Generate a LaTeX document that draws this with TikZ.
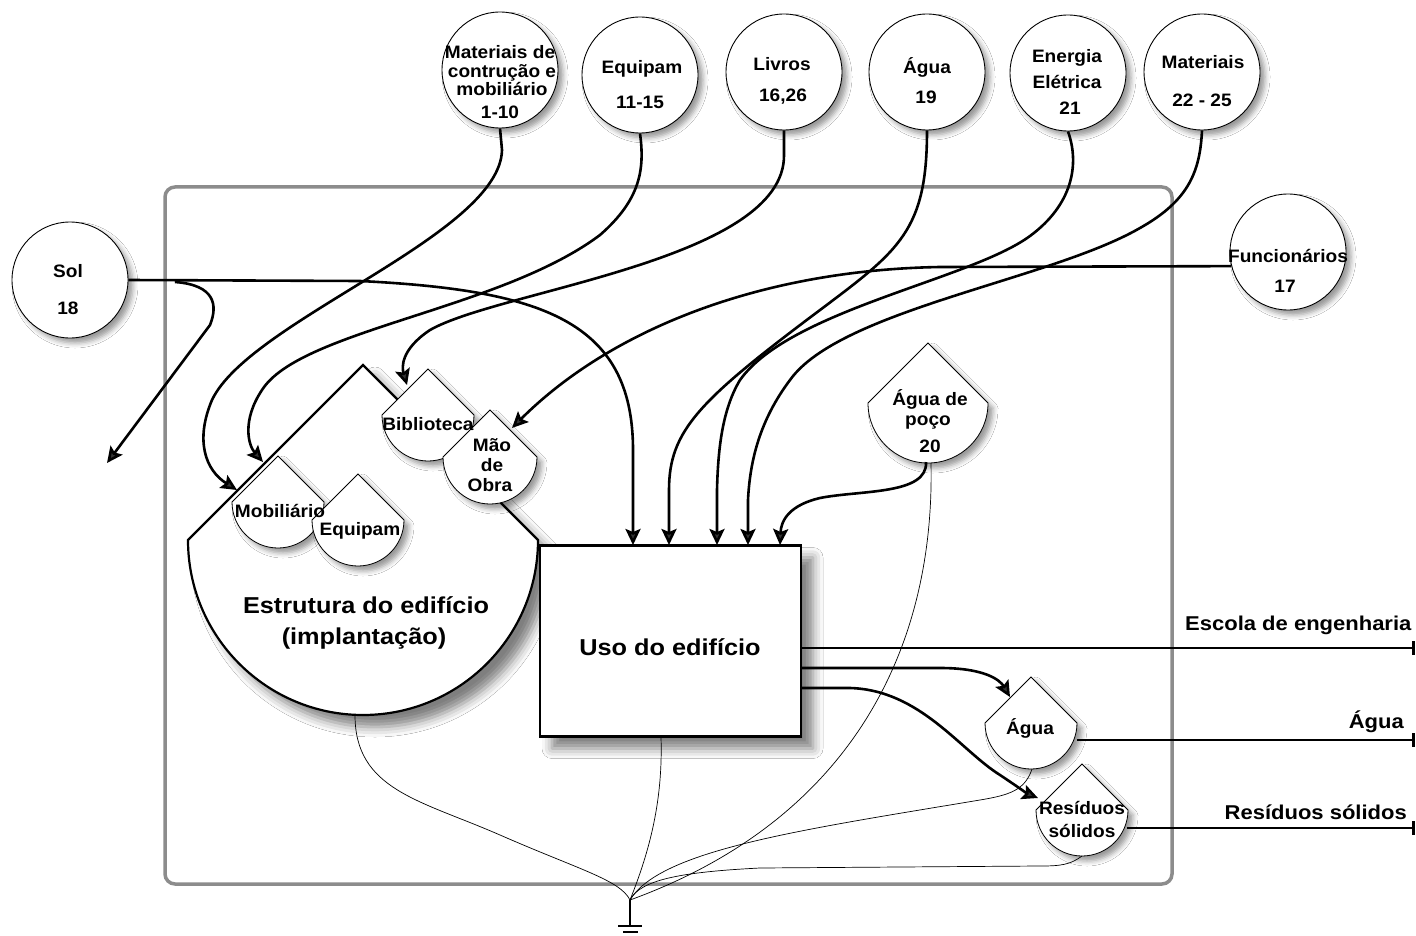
\documentclass[tikz,border=0pt]{standalone}
\usepackage{fontspec}
\setmainfont{Liberation Sans}
\newfontfamily\labf{Liberation Sans}[FakeStretch=1.06]
\newfontfamily\bigf{Liberation Sans}[FakeStretch=1.1]
\usetikzlibrary{arrows.meta,shadows.blur}

\tikzset{
 flow/.style={line width=2.6pt, -{Stealth[length=16pt,width=15pt,inset=3pt]}},
 outflow/.style={line width=2.6pt, -{Bar[width=14pt,line width=2.6pt]}},
 sink/.style={line width=0.7pt},
 src/.style={circle, draw, line width=0.9pt, fill=white, minimum size=116pt, inner sep=0pt,
   blur shadow={shadow xshift=5pt, shadow yshift=-5pt, shadow blur radius=5pt, shadow opacity=40}},
 tankst/.style={draw, line width=0.8pt, fill=white,
   blur shadow={shadow xshift=5pt, shadow yshift=-5pt, shadow blur radius=5pt, shadow opacity=40}},
 estr/.style={draw, line width=2.2pt, fill=white,
   blur shadow={shadow xshift=12pt, shadow yshift=-12pt, shadow blur radius=10pt, shadow opacity=50}},
 usost/.style={draw, line width=2.5pt, fill=white, minimum width=261pt, minimum height=191pt, inner sep=0pt,
   blur shadow={shadow xshift=12pt, shadow yshift=-12pt, shadow blur radius=10pt, shadow opacity=50}},
 lab/.style={font=\labf\bfseries\fontsize{18}{18}\selectfont, inner sep=0pt, anchor=base},
 big/.style={font=\bigf\bfseries\fontsize{23}{23}\selectfont, inner sep=0pt, anchor=base},
 outlab/.style={font=\bigf\bfseries\fontsize{20}{20}\selectfont, inner sep=0pt},
 boundary/.style={draw=black!45, line width=3.5pt, rounded corners=10pt},
}

\newcommand\tank[4]{%
  \path[tankst] (#2,#3-#4) -- (#2-#4,#3) arc[start angle=180,end angle=0,radius=#4] -- cycle;
  \coordinate (#1) at (#2,#3);}

\begin{document}
\begin{tikzpicture}[x=1pt,y=-1pt]
\useasboundingbox[fill=white] (0,0) rectangle (1416,936);

% system boundary
\path[boundary] (165,187) rectangle (1172,884);

% structure (storage) and use box
\path[estr] (363,365) -- (188,540) arc[start angle=180,end angle=0,radius=175] -- cycle;
\coordinate (estr) at (363,540);
\node[usost] (uso) at (670.5,641) {};

% tanks
\tank{mob}{278}{502}{46}
\tank{eqt}{358}{520}{46}
\tank{bib}{428}{415}{46}
\tank{mao}{490}{457}{47}
\tank{poco}{928}{403}{60}
\tank{aguat}{1031}{723}{46}
\tank{res}{1082}{810}{46}

% sources
\node[src] (mat) at (500,70) {};
\node[src] (eqp) at (640,75) {};
\node[src] (liv) at (784,72) {};
\node[src] (agu) at (927,72) {};
\node[src] (ene) at (1068,73) {};
\node[src] (mtl) at (1202,72) {};
\node[src] (sol) at (70,280) {};
\node[src] (fun) at (1288,252) {};

% named end points
\coordinate (mobA) at (237,490);
\coordinate (mobB) at (263,462);
\coordinate (bibA) at (407,385);
\coordinate (maoA) at (512,428);
\coordinate (u1) at (633,545);
\coordinate (u2) at (669,545);
\coordinate (u3) at (717,545);
\coordinate (u4) at (748,545);
\coordinate (u5) at (780,545);
\coordinate (solout) at (107,463);
\coordinate (pocoS) at (926,462);
\coordinate (aguaIn) at (1010,697);
\coordinate (resIn) at (1038,798);
\coordinate (o1) at (1415,648);
\coordinate (o2) at (1415,740);
\coordinate (o3) at (1415,828);
\coordinate (gnd) at (630,900);

% input flows
\draw[flow] (mat.south) -- (502,150) .. controls (500,235) and (250,320) .. (212,400)
   .. controls (195,440) and (205,470) .. (mobA);
\draw[flow] (eqp.south) .. controls (645,170) and (640,200) .. (600,235)
   .. controls (500,310) and (300,330) .. (262,390)
   .. controls (242,420) and (248,445) .. (mobB);
\draw[flow] (liv.south) -- (784,155) .. controls (785,260) and (500,290) .. (430,330)
   .. controls (400,350) and (402,368) .. (bibA);
\draw[flow] (fun.194) -- (940,267) .. controls (760,270) and (610,330) .. (maoA);
\draw[flow] (sol.east) -- (360,281) .. controls (540,290) and (633,320) .. (633,450) -- (u1);
\draw[flow] (175,282) .. controls (215,285) and (218,305) .. (210,325) -- (solout);
\draw[flow] (agu.south) .. controls (927,230) and (900,250) .. (820,310)
   .. controls (700,400) and (669,430) .. (669,490) -- (u2);
\draw[flow] (ene.south) .. controls (1080,165) and (1072,205) .. (1030,236)
   .. controls (970,280) and (790,310) .. (740,380)
   .. controls (722,410) and (718,450) .. (717,490) -- (u3);
\draw[flow] (mtl.south) .. controls (1200,170) and (1190,200) .. (1140,228)
   .. controls (1050,280) and (840,310) .. (790,380)
   .. controls (760,420) and (750,460) .. (748,500) -- (u4);
\draw[flow] (pocoS) .. controls (928,495) and (860,490) .. (820,498)
   .. controls (790,505) and (781,520) .. (u5);

% output flows
\draw[outflow] (uso.east |- o1) -- (o1);
\draw[flow] (801,668) -- (940,668) .. controls (985,668) and (1000,680) .. (aguaIn);
\draw[flow] (801,688) -- (850,688) .. controls (920,690) and (960,750) .. (1000,775)
   .. controls (1015,785) and (1028,794) .. (resIn);
\draw[outflow] (1077,740) -- (o2);
\draw[outflow] (1127,828) -- (o3);

% heat sink connections
\draw[sink] (355,715) .. controls (355,790) and (420,800) .. (500,835)
   .. controls (580,870) and (620,880) .. (gnd);
\draw[sink] (661,737) .. controls (663,800) and (650,850) .. (gnd);
\draw[sink] (931,463) .. controls (935,650) and (850,820) .. (gnd);
\draw[sink] (1032,769) .. controls (1025,790) and (1010,795) .. (980,800)
   .. controls (800,830) and (660,850) .. (gnd);
\draw[sink] (1082,856) .. controls (1070,865) and (1060,866) .. (1040,866) -- (760,868)
   .. controls (680,872) and (640,880) .. (gnd);
\draw[line width=1.2pt] (gnd) -- (630,926);
\draw[line width=1.6pt] (618,926) -- (642,926);
\draw[line width=1.6pt] (623,932) -- (638,932);

% texts in sources
\node[lab] (t1) at (500,58.5) {Materiais de};
\node[lab] (t2) at (502,77.5) {contrução e};
\node[lab] (t3) at (502,95.5) {mobiliário};
\node[lab] (t4) at (500,118.5) {1-10};
\node[lab] (t5) at (642,73.5) {Equipam};
\node[lab] (t6) at (640,108.5) {11-15};
\node[lab] (t7) at (782,70.5) {Livros};
\node[lab] (t8) at (783,102) {16,26};
\node[lab] (t9) at (927,74) {Água};
\node[lab] (t10) at (926,103.5) {19};
\node[lab] (t11) at (1067,62.5) {Energia};
\node[lab] (t12) at (1067,88.5) {Elétrica};
\node[lab] (t13) at (1070,114.5) {21};
\node[lab] (t14) at (1203,68.5) {Materiais};
\node[lab] (t15) at (1202,106.5) {22 - 25};
\node[lab] (t16) at (68,277.5) {Sol};
\node[lab] (t17) at (68,314.5) {18};
\node[lab] (t18) at (1288,262.5) {Funcionários};
\node[lab] (t19) at (1285,292.5) {17};

% texts in tanks
\node[lab] (t20) at (428,430.5) {Biblioteca};
\node[lab] (t21) at (492,451.5) {Mão};
\node[lab] (t22) at (492,471.5) {de};
\node[lab] (t23) at (490,491.5) {Obra};
\node[lab] (t24) at (280,517.5) {Mobiliário};
\node[lab] (t25) at (360,535.5) {Equipam};
\node[lab] (t26) at (930,405.5) {Água de};
\node[lab] (t27) at (928,425.5) {poço};
\node[lab] (t28) at (930,452.5) {20};
\node[lab] (t29) at (1030,734.5) {Água};
\node[lab] (t30) at (1082,814.5) {Resíduos};
\node[lab] (t31) at (1082,837.5) {sólidos};

% big texts
\node[big] (t32) at (366,613) {Estrutura do edifício};
\node[big] (t33) at (364,644) {(implantação)};
\node[big] (t34) at (670,655) {Uso do edifício};

% output labels
\node[outlab, anchor=base west] (t35) at (1185,630) {Escola de engenharia};
\node[outlab, anchor=base east] (t36) at (1404,728) {Água};
\node[outlab, anchor=base east] (t37) at (1407,819) {Resíduos sólidos};
\end{tikzpicture}
\end{document}
